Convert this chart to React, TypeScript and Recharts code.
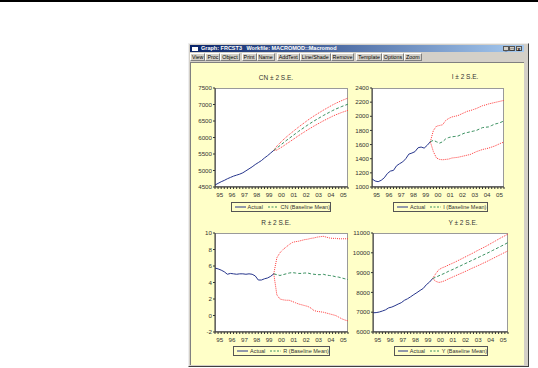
import React from 'react';
import { LineChart, Line, XAxis, YAxis } from 'recharts';

// ---------- categories ----------
const years = ['95', '96', '97', '98', '99', '00', '01', '02', '03', '04', '05'];
const quarters = ['Q1', 'Q2', 'Q3', 'Q4'];
const forecastStart = 19; // 1999Q4: first point of the forecast lines

// ---------- CN ----------
const cnActual = [4560, 4610, 4660, 4700, 4750, 4790, 4830, 4860, 4890, 4930, 4990, 5050, 5110, 5180, 5240, 5300, 5380, 5450, 5530, 5610];
const cnMean = [5610, 5680, 5755, 5830, 5905, 5975, 6045, 6115, 6185, 6250, 6315, 6380, 6440, 6500, 6555, 6610, 6665, 6715, 6765, 6815, 6860, 6900, 6940, 6975, 7010];
const cnUpper = [5610, 5740, 5835, 5925, 6010, 6090, 6165, 6240, 6315, 6385, 6455, 6525, 6590, 6653, 6711, 6769, 6827, 6880, 6933, 6986, 7034, 7077, 7120, 7158, 7196];
const cnLower = [5610, 5620, 5675, 5735, 5800, 5860, 5925, 5990, 6055, 6115, 6175, 6235, 6290, 6347, 6399, 6451, 6503, 6550, 6597, 6644, 6686, 6723, 6760, 6792, 6824];
const cnTicks = [4500, 5000, 5500, 6000, 6500, 7000, 7500];

// ---------- I ----------
const iActual = [1115, 1085, 1075, 1095, 1130, 1190, 1225, 1235, 1300, 1330, 1355, 1400, 1465, 1480, 1500, 1555, 1565, 1550, 1590, 1640];
const iMean = [1640, 1660, 1640, 1620, 1640, 1680, 1700, 1710, 1715, 1720, 1740, 1760, 1770, 1780, 1790, 1800, 1820, 1840, 1845, 1850, 1870, 1890, 1900, 1915, 1935];
const iUpper = [1640, 1800, 1860, 1870, 1880, 1940, 1970, 1990, 2000, 2010, 2030, 2050, 2070, 2080, 2095, 2110, 2130, 2150, 2160, 2175, 2185, 2195, 2205, 2215, 2225];
const iLower = [1640, 1500, 1410, 1390, 1385, 1390, 1395, 1410, 1415, 1420, 1430, 1440, 1450, 1460, 1480, 1500, 1515, 1530, 1540, 1550, 1565, 1580, 1600, 1620, 1635];
const iTicks = [1000, 1200, 1400, 1600, 1800, 2000, 2200, 2400];

// ---------- R ----------
const rActual = [5.75, 5.65, 5.5, 5.3, 5.0, 5.1, 5.05, 5.0, 5.05, 5.05, 5.0, 5.05, 5.0, 4.8, 4.3, 4.3, 4.45, 4.55, 4.75, 5.05];
const rMean = [5.05, 4.95, 4.85, 4.95, 5.05, 5.15, 5.2, 5.15, 5.1, 5.1, 5.15, 5.15, 5.05, 5.0, 4.95, 4.95, 5.0, 4.9, 4.85, 4.8, 4.7, 4.65, 4.55, 4.45, 4.35];
const rUpper = [5.05, 7.0, 7.6, 8.0, 8.3, 8.6, 8.85, 8.95, 9.0, 9.1, 9.2, 9.25, 9.35, 9.4, 9.5, 9.55, 9.6, 9.5, 9.4, 9.35, 9.35, 9.3, 9.3, 9.3, 9.3];
const rLower = [5.05, 2.5, 2.0, 1.9, 1.85, 1.85, 1.7, 1.55, 1.4, 1.3, 1.2, 1.1, 0.9, 0.6, 0.5, 0.45, 0.4, 0.3, 0.2, 0.1, 0.0, -0.2, -0.4, -0.55, -0.65];
const rTicks = [-2, 0, 2, 4, 6, 8, 10];

// ---------- Y ----------
const yActual = [6970, 6980, 7010, 7060, 7120, 7220, 7260, 7330, 7410, 7480, 7600, 7680, 7780, 7890, 7990, 8100, 8200, 8390, 8520, 8700];
const yMean = [8700, 8770, 8840, 8910, 8980, 9060, 9130, 9200, 9280, 9350, 9430, 9500, 9580, 9650, 9730, 9800, 9880, 9950, 10030, 10110, 10190, 10270, 10350, 10430, 10520];
const yUpper = [8700, 8950, 9150, 9240, 9300, 9380, 9450, 9520, 9600, 9680, 9760, 9840, 9920, 10000, 10090, 10170, 10250, 10330, 10420, 10510, 10600, 10690, 10780, 10860, 10950];
const yLower = [8700, 8560, 8500, 8540, 8600, 8680, 8750, 8820, 8890, 8960, 9030, 9100, 9180, 9250, 9320, 9390, 9470, 9540, 9620, 9700, 9780, 9860, 9940, 10020, 10100];
const yTicks = [6000, 7000, 8000, 9000, 10000, 11000];

const toolbarButtons = [['View', 'Proc', 'Object'], ['Print', 'Name'], ['AddText', 'Line/Shade', 'Remove'], ['Template', 'Options', 'Zoom']];

const FONT = '"Liberation Sans", Arial, sans-serif';
const YELLOW = '#FFFFC8';
const C_ACT = '#26358C';
const C_MEAN = '#3A9060';
const C_BAND = '#FF3838';

function buildRows(actual: number[], mean: number[], upper: number[], lower: number[]) {
  const rows: any[] = [];
  const n = years.length * quarters.length;
  for (let i = 0; i < n; i++) {
    const f = i - forecastStart;
    rows.push({
      i,
      period: years[Math.floor(i / 4)] + quarters[i % 4],
      actual: i < actual.length ? actual[i] : null,
      mean: f >= 0 ? mean[f] : null,
      upper: f >= 0 ? upper[f] : null,
      lower: f >= 0 ? lower[f] : null,
    });
  }
  return rows;
}

type Box = { l: number; t: number; r: number; b: number };

function Panel(props: {
  title: string; titleX: number; titleY: number;
  plot: Box; legend: Box; seriesName: string;
  actual: number[]; mean: number[]; upper: number[]; lower: number[];
  ticks: number[];
}) {
  const { plot, legend } = props;
  const data = buildRows(props.actual, props.mean, props.upper, props.lower);
  const YW = 32, XH = 14, MT = 4, MR = 4;
  const W = plot.r - plot.l + YW + MR;
  const H = plot.b - plot.t + MT + XH;
  const n = data.length;
  const step = (plot.r - plot.l) / (n - 1);
  const xTicks = data.map((d) => d.i);
  const XTick = (p: any) => {
    const i = p.payload.value;
    if (i % 4 !== 1) return <g />;
    return (
      <text x={p.x + step / 2} y={p.y + 6} textAnchor="middle" fontSize={6.2} fill="#333" fontFamily={FONT}>
        {years[Math.floor(i / 4)]}
      </text>
    );
  };
  return (
    <>
      <div style={{ position: 'absolute', left: props.titleX - 40, top: props.titleY - 5, width: 80, textAlign: 'center', fontSize: 6.5, color: '#333', fontFamily: FONT, lineHeight: '10px' }}>
        {props.title}
      </div>
      <div style={{ position: 'absolute', left: plot.l, top: plot.t, width: plot.r - plot.l, height: plot.b - plot.t, background: '#fff', border: '1px solid #9a9a9a', boxSizing: 'border-box' }} />
      <div style={{ position: 'absolute', left: plot.l - YW, top: plot.t - MT }}>
        <LineChart width={W} height={H} data={data} margin={{ top: MT, right: MR, bottom: 0, left: 0 }}>
          <XAxis dataKey="i" type="number" domain={[0, n - 1]} ticks={xTicks} interval={0} height={XH}
            tick={XTick} tickSize={2} stroke="#333" allowDecimals={false} />
          <YAxis type="number" domain={[props.ticks[0], props.ticks[props.ticks.length - 1]]} ticks={props.ticks}
            interval={0} width={YW} tickSize={2} tickMargin={1} stroke="#333"
            tick={{ fontSize: 6.2, fill: '#333', fontFamily: FONT }} />
          <Line dataKey="upper" stroke={C_BAND} strokeWidth={1} strokeDasharray="1 1" dot={false} isAnimationActive={false} />
          <Line dataKey="lower" stroke={C_BAND} strokeWidth={1} strokeDasharray="1 1" dot={false} isAnimationActive={false} />
          <Line dataKey="mean" stroke={C_MEAN} strokeWidth={1} strokeDasharray="3 2" dot={false} isAnimationActive={false} />
          <Line dataKey="actual" stroke={C_ACT} strokeWidth={1} dot={false} isAnimationActive={false} />
        </LineChart>
      </div>
      <div style={{ position: 'absolute', left: legend.l, top: legend.t, width: legend.r - legend.l, height: legend.b - legend.t, border: '1px solid #555', boxSizing: 'border-box', background: YELLOW, display: 'flex', alignItems: 'center', fontSize: 5.5, fontFamily: FONT, color: '#333', whiteSpace: 'nowrap', paddingLeft: 3 }}>
        <svg width={11} height={4} style={{ marginRight: 2 }}><line x1={0} y1={2} x2={11} y2={2} stroke={C_ACT} strokeWidth={1} /></svg>
        <span style={{ marginRight: 5 }}>Actual</span>
        <svg width={11} height={4} style={{ marginRight: 2 }}><line x1={0} y1={2} x2={11} y2={2} stroke={C_MEAN} strokeWidth={1} strokeDasharray="2 1.5" /></svg>
        <span>{props.seriesName} (Baseline Mean)</span>
      </div>
    </>
  );
}

export default function App() {
  return (
    <div style={{ position: 'absolute', left: 0, top: 0, width: 538, height: 368, background: '#fff', overflow: 'hidden', fontFamily: FONT }}>
      <div style={{ position: 'absolute', left: 0, top: 0, width: 538, height: 2, background: '#000' }} />
      {/* window frame */}
      <div style={{ position: 'absolute', left: 188, top: 43, width: 341, height: 324, background: '#D4D0C8', borderTop: '1px solid #eee', borderLeft: '1px solid #eee', borderRight: '1px solid #404040', borderBottom: '1px solid #404040', boxSizing: 'border-box' }} />
      {/* title bar */}
      <div style={{ position: 'absolute', left: 190, top: 45, width: 334, height: 7, background: 'linear-gradient(to right, #0A246A, #A6CAF0)', color: '#fff', fontSize: 5.5, fontWeight: 'bold', lineHeight: '7px', whiteSpace: 'nowrap' }}>
        <span style={{ display: 'inline-block', width: 6, height: 4, background: '#fff', margin: '0 3px 0 2px', verticalAlign: 'middle' }} />
        Graph: FRCST3&nbsp;&nbsp;&nbsp;Workfile: MACROMOD::Macromod
        <div style={{ position: 'absolute', right: 2, top: 1, display: 'flex', gap: 0 }}>
          {['_', '□', 'x'].map((s, k) => (
            <div key={k} style={{ width: 6, height: 5, background: '#D4D0C8', color: '#000', fontSize: 5, lineHeight: '5px', textAlign: 'center', marginLeft: k === 2 ? 1 : 0, border: '0.5px solid #555', boxSizing: 'border-box' }}>{s}</div>
          ))}
        </div>
      </div>
      {/* toolbar */}
      <div style={{ position: 'absolute', left: 190, top: 53, height: 8, display: 'flex', fontSize: 5.3, color: '#000', whiteSpace: 'nowrap' }}>
        {toolbarButtons.map((grp, g) => (
          <div key={g} style={{ display: 'flex', marginRight: 2 }}>
            {grp.map((b) => (
              <div key={b} style={{ border: '1px solid #808080', borderTopColor: '#fff', borderLeftColor: '#fff', padding: '0 1px', lineHeight: '6px', height: 8, boxSizing: 'border-box' }}>{b}</div>
            ))}
          </div>
        ))}
      </div>
      {/* client area */}
      <div style={{ position: 'absolute', left: 190, top: 62, width: 334, height: 303, background: YELLOW, borderTop: '1px solid #808080', borderLeft: '1px solid #808080', boxSizing: 'border-box' }} />

      <Panel title="CN ± 2 S.E." titleX={276} titleY={78} plot={{ l: 215, t: 88, r: 348, b: 187 }} legend={{ l: 231, t: 202, r: 331, b: 212 }}
        seriesName="CN" actual={cnActual} mean={cnMean} upper={cnUpper} lower={cnLower} ticks={cnTicks} />
      <Panel title="I ± 2 S.E." titleX={465} titleY={77} plot={{ l: 372, t: 88, r: 504, b: 187 }} legend={{ l: 393, t: 202, r: 488, b: 212 }}
        seriesName="I" actual={iActual} mean={iMean} upper={iUpper} lower={iLower} ticks={iTicks} />
      <Panel title="R ± 2 S.E." titleX={276} titleY={223} plot={{ l: 215, t: 233, r: 348, b: 332 }} legend={{ l: 233, t: 346, r: 330, b: 356 }}
        seriesName="R" actual={rActual} mean={rMean} upper={rUpper} lower={rLower} ticks={rTicks} />
      <Panel title="Y ± 2 S.E." titleX={463} titleY={223} plot={{ l: 373, t: 233, r: 508, b: 332 }} legend={{ l: 394, t: 346, r: 488, b: 356 }}
        seriesName="Y" actual={yActual} mean={yMean} upper={yUpper} lower={yLower} ticks={yTicks} />
    </div>
  );
}
